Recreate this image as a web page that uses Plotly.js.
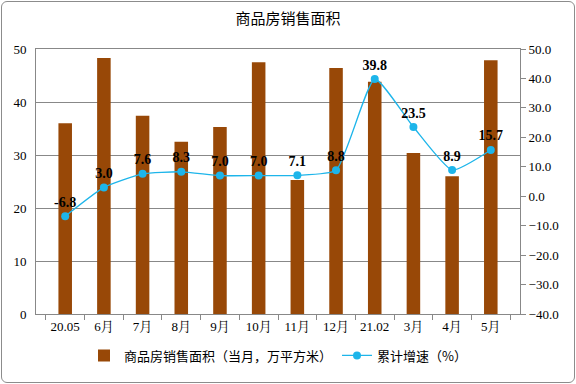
<!DOCTYPE html>
<html><head><meta charset="utf-8">
<script src="https://cdn.plot.ly/plotly-3.0.1.min.js"></script>
<style>
html,body{margin:0;padding:0;background:#fff;}
#wrap{position:relative;width:576px;height:384px;}
#chart{position:absolute;left:0;top:0;width:576px;height:384px;}
#frame{position:absolute;left:1px;top:1px;width:572px;height:380px;border:1px solid #8c8c8c;border-radius:6px;pointer-events:none;}
</style></head>
<body><div id="wrap"><div id="chart"></div><div id="frame"></div></div>
<script>
const categories = ["20.05","6月","7月","8月","9月","10月","11月","12月","21.02","3月","4月","5月"];
const areaMonthly = [36.0,48.3,37.4,32.5,35.3,47.5,25.3,46.4,43.8,30.4,26.0,47.9];
const growthCum = [-6.8,3.0,7.6,8.3,7.0,7.0,7.1,8.8,39.8,23.5,8.9,15.7];
const barName = "商品房销售面积（当月，万平方米）";
const lineName = "累计增速（%）";
const titleText = "商品房销售面积";

const serif = "Liberation Serif, 'Noto Serif CJK SC', 'Noto Sans CJK SC', serif";
const cjk = "'Noto Sans CJK SC', sans-serif";

const traces = [
  {type:'bar', x:categories, y:areaMonthly, name:barName, marker:{color:'#984807'}, width:0.35, yaxis:'y'},
  {type:'scatter', mode:'lines+markers+text', x:categories, y:growthCum, name:lineName, yaxis:'y2',
   line:{color:'#1DB5EA', width:1.3, shape:'spline', smoothing:0.5},
   marker:{color:'#1DB5EA', size:8},
   text:growthCum.map(v=>v.toFixed(1)), textposition:'top center',
   textfont:{family:serif, size:14, color:'#000', weight:'bold'}, cliponaxis:false}
];
const layout = {
  width:576, height:384,
  margin:{l:36, r:56, t:49, b:70},
  paper_bgcolor:'rgba(0,0,0,0)', plot_bgcolor:'#fff',
  title:{text:titleText, x:0.5, xanchor:'center', y:0.95, yanchor:'middle', font:{family:cjk, size:15, color:'#000'}},
  showlegend:true,
  legend:{orientation:'h', x:0.5, xanchor:'center', y:-0.1, yanchor:'top', font:{family:cjk, size:13, color:'#000'}, itemwidth:30, tracegroupgap:0},
  bargap:0.65,
  xaxis:{type:'category', tickfont:{family:serif, size:13, color:'#000'}, showline:true, linecolor:'#888', mirror:true,
         ticks:'outside', tickson:'boundaries', ticklen:5, tickcolor:'#888', showgrid:false},
  yaxis:{range:[0,50], dtick:10, tickfont:{family:serif, size:13, color:'#000'}, showline:true, linecolor:'#888',
         gridcolor:'#888', gridwidth:1, zeroline:false, ticks:'', ticklen:0, ticklabelstandoff:6},
  yaxis2:{range:[-40,50], dtick:10, overlaying:'y', side:'right', tickformat:'.1f', tickfont:{family:serif, size:13, color:'#000'},
          showgrid:false, zeroline:false, showline:true, linecolor:'#888', ticks:'outside', ticklen:5, tickcolor:'#888'}
};
Plotly.newPlot('chart', traces, layout, {displayModeBar:false, staticPlot:true});
</script></body></html>
